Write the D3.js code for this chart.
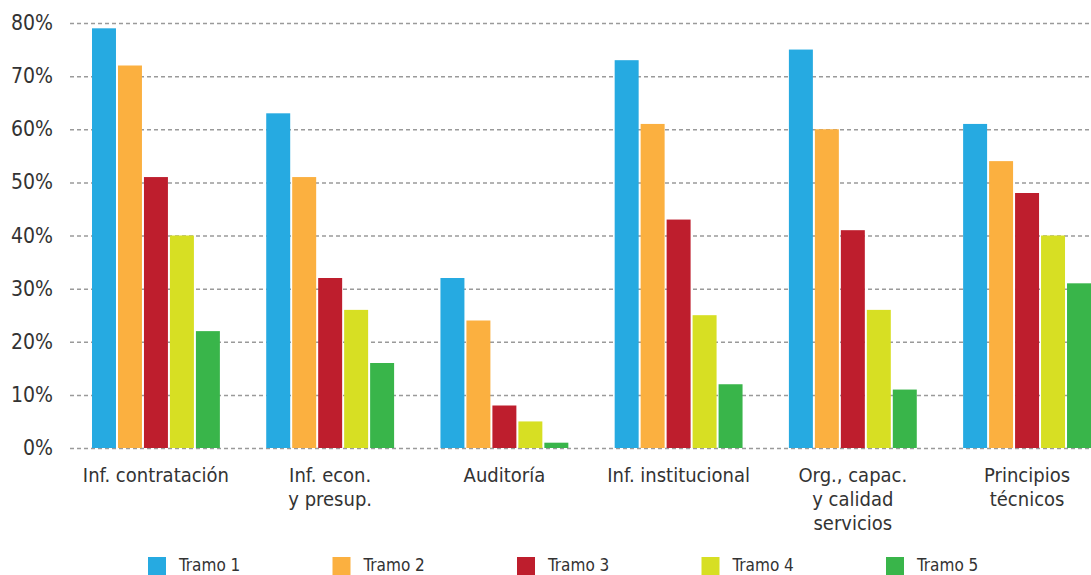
<!DOCTYPE html>
<html><head><meta charset="utf-8">
<script src="https://cdn.jsdelivr.net/npm/d3@7"></script>
<style>body{margin:0;background:#fff}svg{display:block}text{font-family:"Liberation Sans Narrow","DejaVu Sans Condensed",sans-serif;fill:#333}</style>
</head><body><svg id="c" width="1091" height="575"></svg>
<script>
const categories=[["Inf. contratación"],["Inf. econ.","y presup."],["Auditoría"],["Inf. institucional"],["Org., capac.","y calidad","servicios"],["Principios","técnicos"]];
const series=["Tramo 1","Tramo 2","Tramo 3","Tramo 4","Tramo 5"];
const colors=["#26aae1","#fbb040","#be1e2d","#d7df23","#39b54a"];
const tramo1=[79,63,32,73,75,61];
const tramo2=[72,51,24,61,60,54];
const tramo3=[51,32,8,43,41,48];
const tramo4=[40,26,5,25,26,40];
const tramo5=[22,16,1,12,11,31];
const values=[tramo1,tramo2,tramo3,tramo4,tramo5];
const yTicks=[0,10,20,30,40,50,60,70,80];

const svg=d3.select("#c");
const y=d3.scaleLinear().domain([0,80]).range([448,23]);
const x0=d3.scaleBand().domain(d3.range(categories.length)).range([92,1091]).paddingInner(0.266).paddingOuter(0);
const x1=d3.scaleBand().domain(d3.range(series.length)).range([0,x0.bandwidth()]).paddingInner(2/26).paddingOuter(0);

// grid
svg.append("g").selectAll("line").data(yTicks).join("line")
 .attr("x1",70).attr("x2",1091).attr("y1",d=>y(d)+0.5).attr("y2",d=>y(d)+0.5)
 .attr("stroke","#9a9a9a").attr("stroke-width",1.5).attr("stroke-dasharray","4,3");
svg.append("g").selectAll("text").data(yTicks).join("text")
 .attr("x",53).attr("y",d=>y(d)+7).attr("text-anchor","end").attr("font-size",21)
 .text(d=>d+"%");

// bars
const g=svg.append("g").selectAll("g").data(categories).join("g").attr("transform",(d,i)=>`translate(${x0(i)},0)`);
g.selectAll("rect").data((d,i)=>series.map((s,j)=>({j,v:values[j][i]}))).join("rect")
 .attr("x",d=>x1(d.j)).attr("width",x1.bandwidth())
 .attr("y",d=>y(d.v)).attr("height",d=>y(0)-y(d.v)).attr("fill",d=>colors[d.j]);

// category labels
const lab=svg.append("g").selectAll("text").data(categories).join("text")
 .attr("text-anchor","middle").attr("font-size",20)
 .attr("transform",(d,i)=>`translate(${x0(i)+x0.bandwidth()/2},482)`);
lab.selectAll("tspan").data(d=>d).join("tspan").attr("x",0).attr("dy",(d,i)=>i?24:0).text(d=>d);

// legend
const lg=svg.append("g").selectAll("g").data(series).join("g").attr("transform",(d,i)=>`translate(${148+i*184.5},557)`);
lg.append("rect").attr("width",18).attr("height",18).attr("fill",(d,i)=>colors[i]);
lg.append("text").attr("x",31).attr("y",14).attr("font-size",17).text(d=>d);
</script></body></html>
